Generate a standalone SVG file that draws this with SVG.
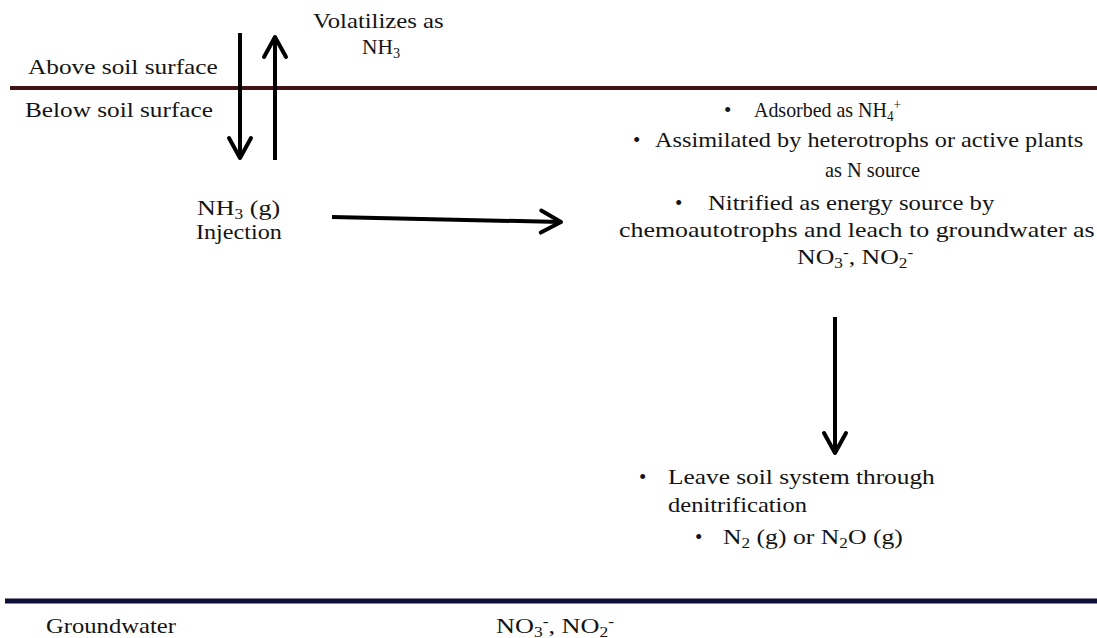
<svg xmlns="http://www.w3.org/2000/svg" width="1097" height="638" viewBox="0 0 1097 638" font-family="'Liberation Serif', 'Times New Roman', serif">
<style>
text{font-size:21px;fill:#141414;}
.sub{font-size:14px;}
.arrow{stroke:#000;stroke-width:4;fill:none;marker-end:url(#chev);}
</style>
<defs>
<marker id="chev" markerUnits="userSpaceOnUse" markerWidth="30" markerHeight="30" viewBox="-24 -15 30 30" refX="0" refY="0" orient="auto" overflow="visible">
<path d="M-20,-11 L0,0 L-20,11" stroke="#000" stroke-width="4" fill="none" stroke-linejoin="round" stroke-linecap="round"/>
</marker>
</defs>
<rect width="1097" height="638" fill="#ffffff"/>
<g id="surface-line"><line x1="10" y1="88" x2="1097" y2="88" stroke="#3f1414" stroke-width="4"/></g>
<g id="groundwater-line"><line x1="5" y1="601" x2="1097" y2="601" stroke="#0e0f36" stroke-width="5"/></g>
<g id="connectors">
<line class="arrow" x1="240" y1="33" x2="240" y2="158"/>
<line class="arrow" x1="275" y1="160" x2="275" y2="37"/>
<line class="arrow" x1="332" y1="217" x2="561" y2="222"/>
<line class="arrow" x1="835" y1="317" x2="835" y2="453"/>
</g>
<g id="volatilizes">
<text transform="translate(313 28) scale(1.178 1)">Volatilizes as</text>
<text transform="translate(362 54) scale(1.02 1)">NH<tspan class="sub" dy="4">3</tspan></text>
</g>
<g id="above"><text transform="translate(28 74) scale(1.206 1)">Above soil surface</text></g>
<g id="below"><text transform="translate(25 117) scale(1.203 1)">Below soil surface</text></g>
<g id="injection">
<text transform="translate(197 215) scale(1.24 1)">NH<tspan class="sub" dy="4">3</tspan><tspan dy="-4"> (g)</tspan></text>
<text transform="translate(196 239) scale(1.15 1)">Injection</text>
</g>
<g id="soil-processes">
<text x="724" y="117">•</text>
<text transform="translate(754 117) scale(0.95 1)">Adsorbed as NH<tspan class="sub" dy="4">4</tspan><tspan class="sub" dy="-12">+</tspan></text>
<text x="633" y="147">•</text>
<text transform="translate(655 147) scale(1.157 1)">Assimilated by heterotrophs or active plants</text>
<text transform="translate(825 177) scale(0.97 1)">as N source</text>
<text x="675" y="210">•</text>
<text transform="translate(708 210) scale(1.177 1)">Nitrified as energy source by</text>
<text transform="translate(619 237) scale(1.235 1)">chemoautotrophs and leach to groundwater as</text>
<text transform="translate(797 264) scale(1.23 1)">NO<tspan class="sub" dy="4">3</tspan><tspan class="sub" dy="-11">-</tspan><tspan dy="7">, NO</tspan><tspan class="sub" dy="4">2</tspan><tspan class="sub" dy="-11">-</tspan></text>
</g>
<g id="denitrification">
<text x="639" y="484">•</text>
<text transform="translate(668 484) scale(1.208 1)">Leave soil system through</text>
<text transform="translate(668 512) scale(1.168 1)">denitrification</text>
<text x="695" y="544">•</text>
<text transform="translate(723 544) scale(1.224 1)">N<tspan class="sub" dy="4">2</tspan><tspan dy="-4"> (g) or N</tspan><tspan class="sub" dy="4">2</tspan><tspan dy="-4">O (g)</tspan></text>
</g>
<g id="groundwater">
<text transform="translate(46 633) scale(1.173 1)">Groundwater</text>
<text transform="translate(496 633) scale(1.25 1)">NO<tspan class="sub" dy="4">3</tspan><tspan class="sub" dy="-11">-</tspan><tspan dy="7">, NO</tspan><tspan class="sub" dy="4">2</tspan><tspan class="sub" dy="-11">-</tspan></text>
</g>
</svg>
